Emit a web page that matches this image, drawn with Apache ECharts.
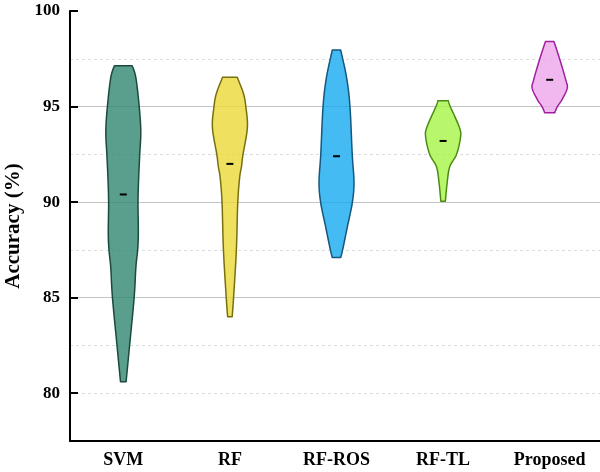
<!DOCTYPE html>
<html>
<head>
<meta charset="utf-8">
<script src="https://cdn.jsdelivr.net/npm/echarts@6/dist/echarts.min.js"></script>
<style>
  html, body { margin: 0; padding: 0; background: #fff; }
  #chart { width: 600px; height: 472px; }
</style>
</head>
<body>
<div id="chart"></div>
<script>
// Models compared
const categories = ['SVM', 'RF', 'RF-ROS', 'RF-TL', 'Proposed'];

// Mean accuracy (%) of each model
const meanAccuracy = [90.4, 92.0, 92.4, 93.2, 96.4];

// Kernel density profiles, top to bottom: [accuracy (%), relative density]
const svmProfile = [[97.14, 0.51], [96.5, 0.72], [95.0, 0.91], [93.7, 1.0], [92.5, 0.94], [91.3, 0.88], [90.0, 0.84], [88.4, 0.86], [87.5, 0.82], [86.6, 0.72], [85.0, 0.62], [82.5, 0.36], [80.6, 0.16]];
const rfProfile = [[96.53, 0.42], [95.7, 0.77], [95.0, 0.91], [93.9, 1.0], [92.5, 0.75], [91.85, 0.66], [91.3, 0.56], [90.0, 0.45], [87.5, 0.37], [85.0, 0.21], [84.0, 0.13]];
const rfRosProfile = [[97.96, 0.24], [96.5, 0.58], [95.0, 0.77], [92.5, 0.9], [91.06, 1.0], [90.0, 0.91], [88.7, 0.62], [87.5, 0.35], [87.1, 0.24]];
const rfTlProfile = [[95.3, 0.30], [95.0, 0.41], [93.94, 0.92], [93.42, 1.0], [92.5, 0.77], [91.85, 0.38], [91.0, 0.23], [90.05, 0.13]];
const proposedProfile = [[98.41, 0.24], [97.52, 0.56], [96.39, 0.92], [95.95, 1.0], [95.34, 0.69], [95.0, 0.44], [94.68, 0.29]];

// Axis ticks
const yMajorTicks = [80, 85, 90, 95, 100];
const yMin = 77.5;
const yMax = 100;
const yMinorStep = 2.5;

const profiles = [svmProfile, rfProfile, rfRosProfile, rfTlProfile, proposedProfile];
const fillColors = ['rgba(49,135,114,0.8)', 'rgba(236,216,56,0.8)', 'rgba(21,170,239,0.8)', 'rgba(166,245,71,0.8)', 'rgba(236,166,234,0.8)'];
const strokeColors = ['#1b4a3d', '#77700f', '#15577d', '#4a8c12', '#a01fa0'];

const serif = '"Liberation Serif", "Times New Roman", Times, serif';

// Catmull-Rom resampling of a pixel polyline so the outline is drawn smooth
function smoothLine(pts, steps) {
  const out = [];
  const n = pts.length;
  for (let i = 0; i < n - 1; i++) {
    const p0 = pts[Math.max(i - 1, 0)];
    const p1 = pts[i];
    const p2 = pts[i + 1];
    const p3 = pts[Math.min(i + 2, n - 1)];
    for (let s = 0; s < steps; s++) {
      const t = s / steps, t2 = t * t, t3 = t2 * t;
      const f = (a, b, c, d) => 0.5 * ((2 * b) + (-a + c) * t + (2 * a - 5 * b + 4 * c - d) * t2 + (-a + 3 * b - 3 * c + d) * t3);
      out.push([f(p0[0], p1[0], p2[0], p3[0]), f(p0[1], p1[1], p2[1], p3[1])]);
    }
  }
  out.push(pts[n - 1]);
  return out;
}

function renderViolin(params, api) {
  const idx = api.value(0);
  const mean = api.value(1);
  const profile = profiles[idx];
  const band = api.size([1, 0])[0];
  const maxHalf = band * 0.164;
  const centre = api.coord([idx, mean]);
  const left = [], right = [];
  profile.forEach(function (p) {
    const c = api.coord([idx, p[0]]);
    left.push([c[0] - p[1] * maxHalf, c[1]]);
    right.push([c[0] + p[1] * maxHalf, c[1]]);
  });
  const leftSmooth = smoothLine(left, 8);
  const rightSmooth = smoothLine(right, 8).reverse();
  const outline = leftSmooth.concat(rightSmooth);
  return {
    type: 'group',
    children: [
      {
        type: 'polygon',
        shape: { points: outline },
        style: { fill: fillColors[idx], stroke: strokeColors[idx], lineWidth: 1.5, lineJoin: 'round' }
      },
      {
        type: 'line',
        shape: { x1: centre[0] - 3.5, y1: centre[1], x2: centre[0] + 3.5, y2: centre[1] },
        style: { stroke: '#000', lineWidth: 2 }
      }
    ]
  };
}

const chart = echarts.init(document.getElementById('chart'), null, { renderer: 'canvas' });
chart.setOption({
  animation: false,
  backgroundColor: '#fff',
  grid: { left: 70, width: 533, top: 11, bottom: 31, containLabel: false, outerBoundsMode: 'none' },
  xAxis: {
    type: 'category',
    data: categories,
    axisLine: { show: true, lineStyle: { color: '#000', width: 2 } },
    axisTick: { show: false },
    axisLabel: { color: '#000', fontFamily: serif, fontWeight: 'bold', fontSize: 18, margin: 10 },
    splitLine: { show: false }
  },
  yAxis: [
    {
      type: 'value',
      min: yMin,
      max: yMax,
      z: 2,
      name: 'Accuracy (%)',
      nameLocation: 'middle',
      nameGap: 40,
      nameTextStyle: { color: '#000', fontFamily: serif, fontWeight: 'bold', fontSize: 21 },
      axisLine: { show: true, lineStyle: { color: '#000', width: 2 } },
      axisTick: { show: true, inside: true, length: 8, lineStyle: { color: '#000', width: 2 }, customValues: yMajorTicks },
      axisLabel: { color: '#000', fontFamily: serif, fontWeight: 'bold', fontSize: 17, margin: 10, customValues: yMajorTicks },
      splitLine: { show: true, showMinLine: false, showMaxLine: false, lineStyle: { color: '#c4c4c4', width: 1.2 } }
    },
    {
      type: 'value',
      min: yMin,
      max: yMax,
      interval: yMinorStep,
      z: 1,
      axisLine: { show: false },
      axisTick: { show: false },
      axisLabel: { show: false },
      splitLine: { show: true, showMinLine: false, showMaxLine: false, lineStyle: { color: '#dcdcdc', type: [3, 3], width: 1 } }
    }
  ],
  series: [{
    type: 'custom',
    z: 3,
    renderItem: renderViolin,
    data: meanAccuracy.map(function (m, i) { return [i, m]; }),
    encode: { x: 0, y: 1 }
  }]
});
</script>
</body>
</html>
